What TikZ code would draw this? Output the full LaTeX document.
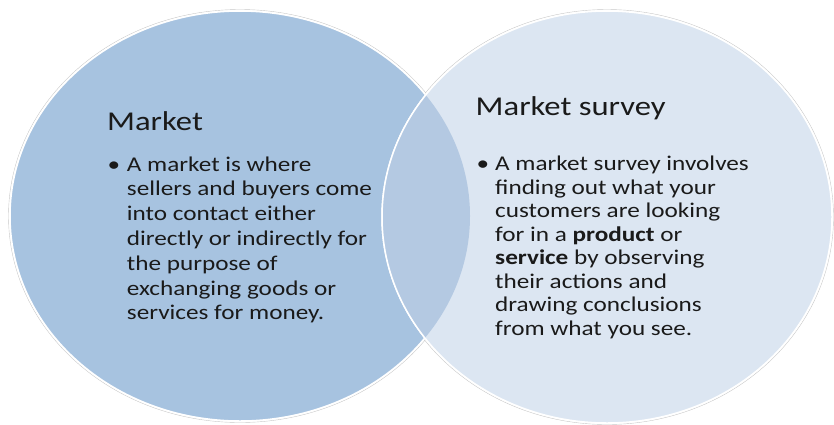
\documentclass[tikz,border=0pt]{standalone}
\usepackage{fontspec}
\setmainfont{Carlito}[FakeStretch=1.2]
\definecolor{leftc}{HTML}{A7C3E0}
\definecolor{rightc}{HTML}{DCE6F2}
\definecolor{overc}{HTML}{B4C9E2}
\definecolor{txt}{HTML}{1A1A1A}
\begin{document}
\begin{tikzpicture}[x=1pt,y=-1pt,
  head/.style={anchor=base west,inner sep=0pt,font=\fontsize{27.2}{32}\selectfont,text=txt},
  lbody/.style={anchor=base west,inner sep=0pt,align=left,font=\fontsize{21}{24.8}\selectfont,text=txt},
  rbody/.style={anchor=base west,inner sep=0pt,align=left,font=\fontsize{21}{23.5}\selectfont,text=txt},
  bul/.style={anchor=base west,inner sep=0pt,font=\fontsize{21}{25}\selectfont,text=txt},
  rim/.style={draw=white,line width=1.5pt},
  halo/.style={draw=black!22,line width=0.4pt}]
\useasboundingbox (0,0) rectangle (834,424);
% halos
\path[halo] (240,216) ellipse [x radius=231.5pt,y radius=206.5pt];
\path[halo] (607,217) ellipse [x radius=226.5pt,y radius=207.5pt];
% left ellipse
\path[fill=leftc,rim] (240,216) ellipse [x radius=230pt,y radius=205pt];
% right ellipse
\path[fill=rightc,rim] (607,217) ellipse [x radius=225pt,y radius=206pt];
% overlap
\begin{scope}
  \clip (240,216) ellipse [x radius=230pt,y radius=205pt];
  \path[fill=overc] (607,217) ellipse [x radius=225pt,y radius=206pt];
  \path[rim] (607,217) ellipse [x radius=225pt,y radius=206pt];
\end{scope}
% left text (base anchor = last line baseline)
\node[head] (lhead) at (107,130.7) {Market};
\node[bul] (lbul) at (107.5,171) {•};
\node[lbody] (lbody) at (126.7,319.8) {A market is where\\
sellers and buyers come\\
into contact either\\
directly or indirectly for\\
the purpose of\\
exchanging goods or\\
services for money.};
% right text
\node[head] (rhead) at (475.5,115) {Market survey};
\node[bul] (rbul) at (476.5,170.7) {•};
\node[rbody] (rbody) at (495,335.2) {A market survey involves\\
finding out what your\\
customers are looking\\
for in a \textbf{product} or\\
\textbf{service} by observing\\
their actions and\\
drawing conclusions\\
from what you see.};
\end{tikzpicture}
\end{document}
